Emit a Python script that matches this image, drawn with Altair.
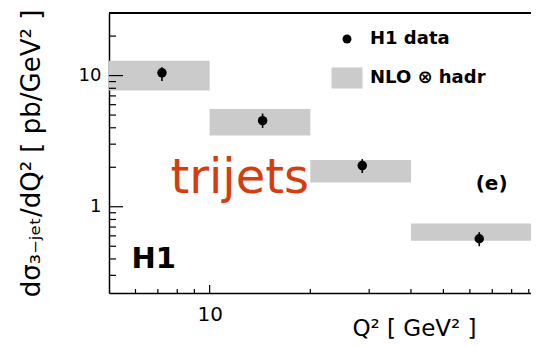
import altair as alt
import pandas as pd

# ---- data ----
bin_lo = [5, 10, 20, 40]
bin_hi = [10, 20, 40, 100]
nlo_lo = [7.7, 3.5, 1.53, 0.55]
nlo_hi = [13.0, 5.57, 2.27, 0.746]

q2 = [7.2, 14.4, 28.6, 64.0]
xsec = [10.5, 4.53, 2.06, 0.57]
err_lo = [9.1, 3.99, 1.81, 0.50]
err_hi = [11.6, 5.13, 2.31, 0.64]

x_major = [10]
x_minor = [6, 7, 8, 9, 20, 30, 40, 50, 60, 70, 80, 90]
y_major = [1, 10]
y_minor = [0.3, 0.4, 0.5, 0.6, 0.7, 0.8, 0.9, 2, 3, 4, 5, 6, 7, 8, 9, 20, 30]

series = ["H1 data", "NLO \u2297 hadr"]

W, H = 422, 280

bands = pd.DataFrame({"lo": bin_lo, "hi": bin_hi, "ylo": nlo_lo, "yhi": nlo_hi,
                      "series": series[1]})
pts = pd.DataFrame({"q2": q2, "y": xsec, "elo": err_lo, "ehi": err_hi,
                    "series": series[0]})

xscale = alt.Scale(type="log", domain=[5, 91.4], nice=False, clamp=True)
yscale = alt.Scale(type="log", domain=[0.22, 30], nice=False)

xaxis = alt.Axis(values=x_major, format="d", ticks=False, domain=True, domainColor="black",
                 domainWidth=1.5, grid=False, labelFlush=False,
                 labelFont="DejaVu Sans", labelFontSize=20, labelColor="black",
                 labelPadding=11, labelBaseline="top",
                 title="Q\u00b2 [ GeV\u00b2 ]", titleFont="DejaVu Sans", titleFontSize=23,
                 titleFontWeight="normal", titleColor="black",
                 titleX=305, titleY=42, titleAlign="center", titleBaseline="alphabetic")
yaxis = alt.Axis(values=y_major, format="d", ticks=False, domain=True, domainColor="black",
                 domainWidth=1.5, grid=False, labelFlush=False,
                 labelFont="DejaVu Sans", labelFontSize=18, labelColor="black",
                 labelPadding=8,
                 title="d\u03c3\u2083\u208b\u2c7c\u2091\u209c/dQ\u00b2 [ pb/GeV\u00b2 ]",
                 titleFont="DejaVu Sans", titleFontSize=26, titleFontWeight="normal",
                 titleColor="black", titleAngle=270, titleX=-78, titleY=140,
                 titleAlign="center", titleBaseline="middle")

def X(f):
    return alt.X(f, scale=xscale, axis=xaxis)

def Y(f):
    return alt.Y(f, scale=yscale, axis=yaxis)

color_scale = alt.Scale(domain=series, range=["black", "#cbcbcb"])
shape_scale = alt.Scale(domain=series, range=["circle", "M-3.47,-2.35H3.47V2.35H-3.47Z"])
leg = alt.Legend(orient="none", legendX=229, legendY=17, title=None,
                 labelFont="DejaVu Sans", labelFontSize=18, labelFontWeight="bold",
                 labelColor="black", symbolSize=80, labelOffset=14, rowPadding=19,
                 symbolStrokeWidth=0, padding=0, symbolOpacity=1)

band_layer = alt.Chart(bands).mark_rect().encode(
    x=X("lo:Q"), x2="hi:Q", y=Y("ylo:Q"), y2="yhi:Q",
    color=alt.Color("series:N", scale=color_scale, legend=leg),
)

err_layer = alt.Chart(pts).mark_rule(color="black", strokeWidth=1.6).encode(
    x=X("q2:Q"), y=Y("elo:Q"), y2="ehi:Q",
)

pt_layer = alt.Chart(pts).mark_point(filled=True, size=90, opacity=1).encode(
    x=X("q2:Q"), y=Y("y:Q"),
    color=alt.Color("series:N", scale=color_scale, legend=leg),
    shape=alt.Shape("series:N", scale=shape_scale, legend=leg),
)

ymaj = alt.Chart(pd.DataFrame({"v": y_major})).mark_rule(color="black", strokeWidth=1.2).encode(
    y=Y("v:Q"), x=alt.value(0), x2=alt.value(14))
ymin = alt.Chart(pd.DataFrame({"v": y_minor})).mark_rule(color="black", strokeWidth=1.2).encode(
    y=Y("v:Q"), x=alt.value(0), x2=alt.value(7))
xmaj = alt.Chart(pd.DataFrame({"v": x_major})).mark_rule(color="black", strokeWidth=1.2).encode(
    x=X("v:Q"), y=alt.value(H), y2=alt.value(H - 8))
xmin = alt.Chart(pd.DataFrame({"v": x_minor})).mark_rule(color="black", strokeWidth=1.2).encode(
    x=X("v:Q"), y=alt.value(H), y2=alt.value(H - 4))
top_line = alt.Chart(pd.DataFrame({"v": [0]})).mark_rule(color="black", strokeWidth=1.8).encode(
    x=alt.value(0), x2=alt.value(W), y=alt.value(0))

def label(txt, x, y, **kw):
    df = pd.DataFrame({"t": [txt], "x": [x], "y": [y]})
    return alt.Chart(df).mark_text(**kw).encode(x=X("x:Q"), y=Y("y:Q"), text="t:N")

trij = label("trijets", 12.3, 1.28, font="DejaVu Sans", fontSize=48, color="#d43d0f",
             align="center", baseline="alphabetic")
e_lbl = label("(e)", 69.7, 1.5, font="DejaVu Sans", fontSize=20, fontWeight="bold",
              color="black", align="center", baseline="middle")
h1 = label("H1", 6.8, 0.342, font="DejaVu Sans", fontSize=29, fontWeight="bold",
           color="black", align="center", baseline="alphabetic")

chart = alt.layer(band_layer, err_layer, pt_layer, ymaj, ymin, xmaj, xmin, top_line,
                  trij, e_lbl, h1).properties(
    width=W, height=H,
    autosize=alt.AutoSizeParams(type="none"),
    padding={"left": 101, "top": 5, "right": 0, "bottom": 46},
    background="white",
).configure_view(strokeWidth=0)

chart.save("out.html", embed_options={"renderer": "svg", "actions": False})
